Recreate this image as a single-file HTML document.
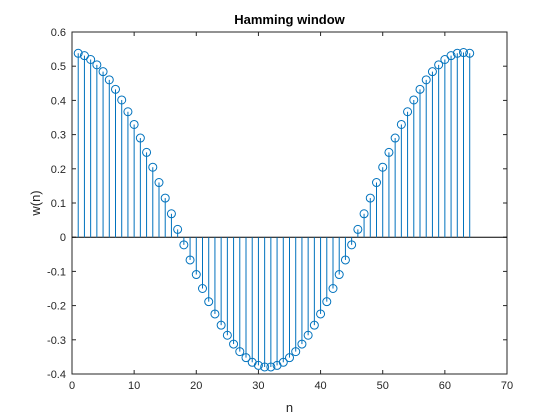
<!DOCTYPE html>
<html><head><meta charset="utf-8"><style>
body{margin:0;background:#fff;}
svg{display:block;font-family:"Liberation Sans",Arial,sans-serif;}
</style></head><body>
<svg id="chart" width="560" height="420">
<rect x="0" y="0" width="560" height="420" fill="#fff"/>
</svg>
<script>
const xTickLabels=[0,10,20,30,40,50,60,70];
const yTickLabels=[-0.4,-0.3,-0.2,-0.1,0,0.1,0.2,0.3,0.4,0.5,0.6];
const nValues=[];for(let i=1;i<=64;i++)nValues.push(i);
const wValues=[0.5377,0.5309,0.5196,0.5039,0.4840,0.4601,0.4324,0.4012,0.3668,0.3296,0.2899,0.2480,0.2046,0.1599,0.1144,0.0685,0.0228,-0.0224,-0.0665,-0.1092,-0.15,-0.1885,-0.2244,-0.2572,-0.2867,-0.3125,-0.3345,-0.3523,-0.3658,-0.3748,-0.3794,
-0.3794,-0.3748,-0.3658,-0.3523,-0.3345,-0.3125,-0.2867,-0.2572,-0.2244,-0.1885,-0.15,-0.1092,-0.0665,-0.0224,0.0228,0.0685,0.1144,0.1599,0.2046,0.2480,0.2899,0.3296,0.3668,0.4012,0.4324,0.4601,0.4840,0.5039,0.5196,0.5309,0.5377,0.54,0.5377];
const L=72,R=507,T=32,B=374;
const sx=v=>L+(v-0)/(70-0)*(R-L);
const sy=v=>B-(v+0.4)/(1.0)*(B-T);
const svg=document.getElementById('chart');
const NS='http://www.w3.org/2000/svg';
function mk(tag,attrs,parent){const e=document.createElementNS(NS,tag);for(const k in attrs)e.setAttribute(k,attrs[k]);(parent||svg).appendChild(e);return e;}
const axes=mk('g',{});


mk('rect',{x:L,y:T,width:R-L,height:B-T,fill:'#fff',stroke:'#262626','stroke-width':1},axes);
xTickLabels.forEach(t=>{const x=sx(t);
mk('line',{x1:x,y1:B,x2:x,y2:B-4,stroke:'#262626'},axes);
mk('line',{x1:x,y1:T,x2:x,y2:T+4,stroke:'#262626'},axes);
const tx=mk('text',{x:x,y:B+15,'text-anchor':'middle','font-size':11,fill:'#262626'},axes);tx.textContent=t;

});
yTickLabels.forEach(t=>{const y=sy(t);
mk('line',{x1:L,y1:y,x2:L+4,y2:y,stroke:'#262626'},axes);
mk('line',{x1:R,y1:y,x2:R-4,y2:y,stroke:'#262626'},axes);
const tx=mk('text',{x:L-6,y:y+4,'text-anchor':'end','font-size':11,fill:'#262626'},axes);tx.textContent=(t===0?'0':t.toFixed(1));

});
const base=mk('line',{x1:L,y1:sy(0),x2:R,y2:sy(0),stroke:'#000','stroke-width':1});


const stems=mk('g',{});


nValues.forEach((n,i)=>{const x=sx(n),y=sy(wValues[i]);
const l=mk('line',{x1:x,y1:sy(0),x2:x,y2:y,stroke:'#0072BD','stroke-width':1},stems);


const c=mk('circle',{cx:x,cy:y,r:4,fill:'none',stroke:'#0072BD','stroke-width':1},stems);

});
const title=mk('text',{x:(L+R)/2,y:24,'text-anchor':'middle','font-size':13,'font-weight':'bold',fill:'#000'});title.textContent='Hamming window';


const xl=mk('text',{x:(L+R)/2,y:412,'text-anchor':'middle','font-size':13,fill:'#262626'});xl.textContent='n';


const yl=mk('text',{x:0,y:0,'text-anchor':'middle','font-size':13,fill:'#262626',transform:'translate(40,'+((T+B)/2)+') rotate(-90)'});yl.textContent='w(n)';


</script>
</body></html>
